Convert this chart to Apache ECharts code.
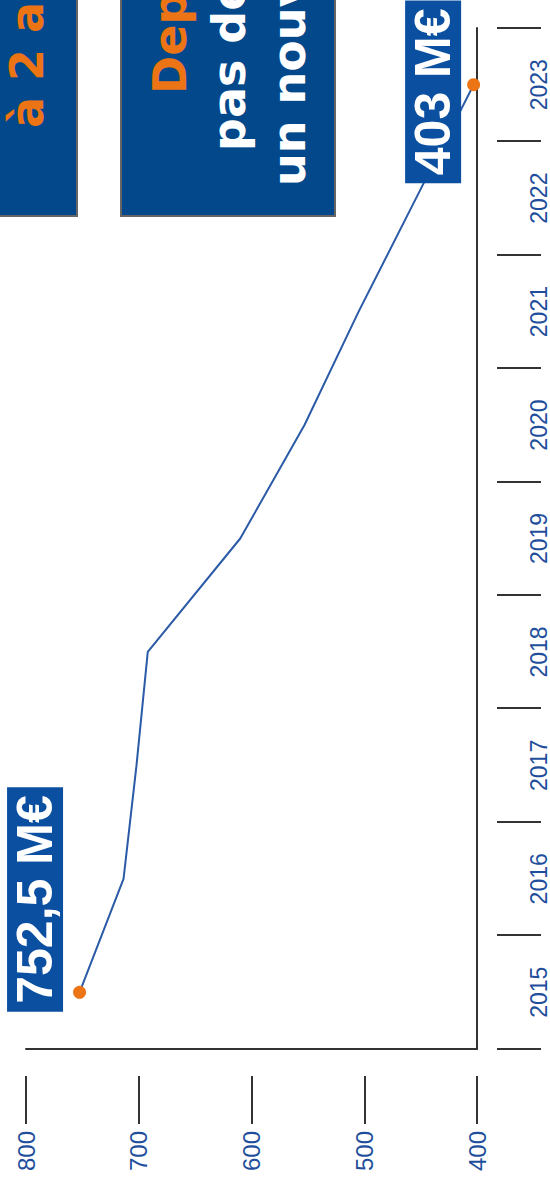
<!DOCTYPE html>
<html>
<head>
<meta charset="utf-8">
<script src="https://cdn.jsdelivr.net/npm/echarts@6/dist/echarts.min.js"></script>
<style>
  html, body { margin: 0; padding: 0; background: #fff; width: 550px; height: 1178px; overflow: hidden; }
  /* the chart is drawn landscape, then turned a quarter turn counter-clockwise */
  #chart {
    position: absolute; left: 0; top: 0;
    width: 1178px; height: 550px;
    transform-origin: 0 0;
    transform: translateY(1178px) rotate(-90deg);
  }
</style>
</head>
<body>
<div id="chart"></div>
<script>
const years = ['2015', '2016', '2017', '2018', '2019', '2020', '2021', '2022', '2023']
const amounts = [752.5, 713.5, 702, 692, 610, 553, 505, 454, 403]
const pointLabels = ['752,5 M€', '', '', '', '', '', '', '', '403 M€']
const valueTicks = [400, 500, 600, 700, 800]

const BLUE_TXT = '#1f4f9c'
const AXIS = '#333'
const LINE = '#2b5aa6'
const ORANGE = '#ec7414'
const LABEL_BG = '#0b4fa0'
const BOX_BG = '#03488b'

const chart = echarts.init(document.getElementById('chart'), null, { renderer: 'svg' })

// label boxes sit next to the first and last points
const labelPos = { 0: [-13, -66], 8: [-92, -62] }

const seriesData = amounts.map((v, i) => {
  const item = { value: v }
  if (pointLabels[i]) {
    item.symbolSize = 13
    item.label = {
      show: true,
      formatter: pointLabels[i],
      position: labelPos[i],
      align: 'left',
      verticalAlign: 'top',
      color: '#fff',
      backgroundColor: LABEL_BG,
      fontFamily: 'Liberation Sans',
      fontWeight: 'bold',
      fontSize: 50,
      lineHeight: 56,
      padding: [0, 8]
    }
  } else {
    item.symbolSize = 0
  }
  return item
})

const txt = (text, x, y, color) => ({
  type: 'text',
  x, y,
  style: {
    text,
    fill: color,
    font: 'bold 46px "DejaVu Sans"',
    textAlign: 'left',
    textVerticalAlign: 'middle'
  }
})

const option = {
  animation: false,
  backgroundColor: '#fff',
  grid: { left: 129, right: 28, top: 26, bottom: 71 },
  xAxis: [
    {
      type: 'category',
      data: years,
      boundaryGap: true,
      axisLine: { show: true, lineStyle: { color: AXIS, width: 2 } },
      axisTick: { show: false },
      axisLabel: { show: false }
    },
    {
      type: 'category',
      data: years,
      boundaryGap: true,
      position: 'bottom',
      offset: 20,
      axisLine: { show: false },
      axisTick: { show: true, length: 44, lineStyle: { color: AXIS, width: 2 } },
      axisLabel: {
        margin: 30,
        color: BLUE_TXT,
        fontSize: 23,
        fontFamily: 'Liberation Sans'
      }
    }
  ],
  yAxis: [
    {
      type: 'value',
      min: valueTicks[0],
      max: valueTicks[valueTicks.length - 1],
      interval: 100,
      axisLine: { show: true, lineStyle: { color: AXIS, width: 2 } },
      axisTick: { show: false },
      axisLabel: { show: false },
      splitLine: { show: false }
    },
    {
      type: 'value',
      position: 'left',
      offset: 27,
      min: valueTicks[0],
      max: valueTicks[valueTicks.length - 1],
      interval: 100,
      axisLine: { show: false },
      axisTick: { show: true, length: 48, lineStyle: { color: AXIS, width: 2 } },
      axisLabel: {
        margin: 55,
        color: BLUE_TXT,
        fontSize: 24,
        fontFamily: 'Liberation Sans'
      },
      splitLine: { show: false }
    }
  ],
  series: [
    {
      type: 'line',
      xAxisIndex: 0,
      yAxisIndex: 0,
      data: seriesData,
      symbol: 'circle',
      showAllSymbol: true,
      lineStyle: { color: LINE, width: 2 },
      itemStyle: { color: ORANGE },
      z: 3
    }
  ],
  graphic: [
    // the two text panels, only partly inside the frame
    {
      type: 'rect',
      shape: { x: 962, y: -60, width: 400, height: 137 },
      style: { fill: BOX_BG, stroke: '#666', lineWidth: 2 }
    },
    txt('à 2 ans', 1050, 27, ORANGE),
    {
      type: 'rect',
      shape: { x: 962, y: 121, width: 400, height: 214 },
      style: { fill: BOX_BG, stroke: '#666', lineWidth: 2 }
    },
    txt('Depuis 2023,', 1084, 170, ORANGE),
    txt('pas de budget', 1027, 229, '#fff'),
    txt('un nouveau recul', 992, 289, '#fff')
  ]
}

chart.setOption(option)
</script>
</body>
</html>
